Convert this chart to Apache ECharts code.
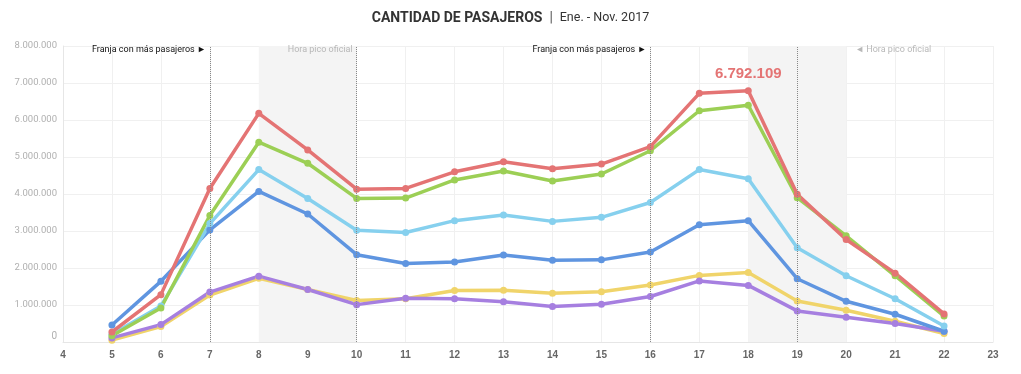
<!DOCTYPE html>
<html><head><meta charset="utf-8">
<script src="https://cdn.jsdelivr.net/npm/echarts@6/dist/echarts.min.js"></script>
<style>html,body{margin:0;padding:0;background:#fff}#c{width:1021px;height:374px}</style>
</head><body><div id="c"></div>
<script>
const hours = [5,6,7,8,9,10,11,12,13,14,15,16,17,18,19,20,21,22];
const serieYellow = [50000,420000,1270000,1720000,1420000,1120000,1170000,1390000,1400000,1320000,1360000,1540000,1800000,1880000,1110000,860000,560000,230000];
const seriePurple = [110000,470000,1350000,1780000,1420000,1010000,1180000,1170000,1090000,960000,1020000,1230000,1650000,1530000,840000,670000,500000,290000];
const serieBlue = [460000,1640000,3030000,4070000,3460000,2360000,2120000,2160000,2350000,2210000,2220000,2430000,3170000,3280000,1710000,1100000,750000,290000];
const serieLightBlue = [210000,970000,3200000,4660000,3880000,3020000,2960000,3280000,3430000,3260000,3370000,3770000,4660000,4410000,2550000,1790000,1170000,430000];
const serieGreen = [170000,920000,3420000,5400000,4830000,3880000,3890000,4380000,4620000,4350000,4540000,5170000,6250000,6400000,3900000,2870000,1790000,700000];
const serieRed = [270000,1280000,4150000,6180000,5190000,4130000,4150000,4600000,4870000,4680000,4810000,5280000,6720000,6792109,3990000,2770000,1860000,760000];
const peakIndex = 13;
const yTicks = [0,1000000,2000000,3000000,4000000,5000000,6000000,7000000,8000000];
const dashedHours = [7,10,16,19];
const shadedRanges = [[8,10],[18,20]];
const notes = [
  {x:7, text:'Franja con más pasajeros ►', side:'left', color:'#111'},
  {x:10, text:'Hora pico oficial', side:'left', color:'#b8b8b8'},
  {x:16, text:'Franja con más pasajeros ►', side:'left', color:'#111'},
  {x:20, text:'◄ Hora pico oficial', side:'right', color:'#b8b8b8'}
];
const noteY = 7890000;

function fmt(v){ return String(Math.round(v)).replace(/\B(?=(\d{3})+(?!\d))/g,'.'); }

const SMALL = 'Roboto, sans-serif';
const colors = {yellow:'#f0d46a', purple:'#a67fe0', blue:'#5f95e0', light:'#86d0ee', green:'#9ccf55', red:'#e47474'};
function mk(name, data, color, extra){
  const s = {
    name, type:'line', data: hours.map((h,i)=>[h,data[i]]),
    symbol:'circle', symbolSize:7, lineStyle:{width:3.5,color}, itemStyle:{color},
    emphasis:{disabled:true}, z:3
  };
  return Object.assign(s, extra||{});
}

const redData = hours.map((h,i)=>{
  if(i===peakIndex) return {value:[h,serieRed[i]], label:{show:true, position:'top', distance:6, formatter:p=>fmt(p.value[1]), color:'#e47474', fontSize:15, fontWeight:'bold', fontFamily:'Liberation Sans, Arial, sans-serif'}};
  return [h,serieRed[i]];
});

const series = [
  mk('yellow', serieYellow, colors.yellow, {
    markArea:{silent:true, itemStyle:{color:'#f4f4f4'}, data: shadedRanges.map(r=>[{xAxis:r[0]},{xAxis:r[1]}])},
    markLine:{silent:true, symbol:'none', label:{show:false}, lineStyle:{color:'#888', type:'dotted', width:1}, data: dashedHours.map(h=>({xAxis:h}))},
    markPoint:{silent:true, symbol:'circle', symbolSize:0, data: notes.map(n=>({coord:[n.x,noteY], label:{show:true, position:n.side, distance:n.side==='left'?4:9, formatter:n.text, color:n.color, fontSize:9, fontFamily:SMALL}}))}
  }),
  mk('purple', seriePurple, colors.purple),
  mk('blue', serieBlue, colors.blue),
  mk('light', serieLightBlue, colors.light),
  mk('green', serieGreen, colors.green),
  Object.assign(mk('red', serieRed, colors.red), {data: redData})
];

const chart = echarts.init(document.getElementById('c'));
chart.setOption({
  animation:false,
  title:{
    left:'center', top:6,
    text:'{b|CANTIDAD DE PASAJEROS}{s|  |  }{n|Ene. - Nov. 2017}',
    textStyle:{rich:{
      b:{fontSize:14, fontWeight:'bold', color:'#333', fontFamily:'Roboto, sans-serif'},
      s:{fontSize:14, fontWeight:'normal', color:'#555', fontFamily:'Roboto, sans-serif'},
      n:{fontSize:12.5, fontWeight:'normal', color:'#333', fontFamily:'Roboto, sans-serif'}
    }}
  },
  grid:{left:63, right:28, top:46, bottom:32, containLabel:false},
  xAxis:{
    type:'value', min:4, max:23, interval:1,
    axisLine:{show:true, lineStyle:{color:'#e6e6e6'}},
    axisTick:{show:false},
    splitLine:{show:true, lineStyle:{color:'#f0f0f0'}},
    axisLabel:{color:'#666', fontSize:10, fontWeight:'bold', margin:8, fontFamily:'Liberation Sans, Arial, sans-serif'}
  },
  yAxis:{
    type:'value', min:yTicks[0], max:yTicks[yTicks.length-1], interval:1000000,
    axisLine:{show:true, lineStyle:{color:'#e6e6e6'}},
    axisTick:{show:false},
    splitLine:{show:true, lineStyle:{color:'#f0f0f0'}},
    axisLabel:{color:'#b0b0b0', fontSize:9.5, margin:6, fontFamily:SMALL,
      formatter:v=> v===0 ? '{z|0}' : fmt(v),
      rich:{z:{color:'#b0b0b0', fontSize:10, fontFamily:SMALL, padding:[0,0,12,0]}}
    }
  },
  series
});
</script></body></html>
